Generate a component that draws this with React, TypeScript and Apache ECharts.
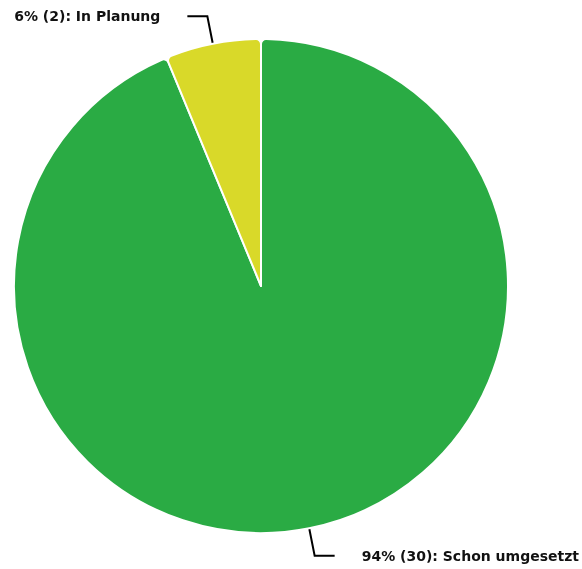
import React, { useEffect, useRef } from "react";
import * as echarts from "echarts";

const categories = ["Schon umgesetzt", "In Planung"];
const values = [30, 2];
const percents = ["94%", "6%"];
const colors = ["#2aab44", "#d9d929"];

export default function App() {
  const ref = useRef<HTMLDivElement>(null);
  useEffect(() => {
    if (!ref.current) return;
    const chart = echarts.init(ref.current, undefined, { renderer: "svg" });
    chart.setOption({
      animation: false,
      series: [
        {
          type: "pie",
          center: [261, 286],
          radius: 247,
          startAngle: 90,
          clockwise: true,
          avoidLabelOverlap: false,
          itemStyle: { borderColor: "#ffffff", borderWidth: 2, borderRadius: 5 },
          label: {
            show: true,
            position: "outside",
            fontFamily: "DejaVu Sans",
            fontWeight: "bold",
            fontSize: 14,
            color: "#111111",
            padding: [3, 0, 0, 0],
            distanceToLabelLine: 27,
            formatter: (p: any) => `${percents[p.dataIndex]} (${values[p.dataIndex]}): ${p.name}`,
          },
          labelLine: {
            show: true,
            length: 28,
            length2: 20,
            lineStyle: { color: "#000000", width: 2 },
          },
          data: categories.map((c, i) => ({
            name: c,
            value: values[i],
            itemStyle: { color: colors[i] },
          })),
        },
      ],
    });
    return () => chart.dispose();
  }, []);
  return (
    <div
      ref={ref}
      style={{ position: "fixed", left: 0, top: 0, width: 582, height: 569 }}
    />
  );
}
